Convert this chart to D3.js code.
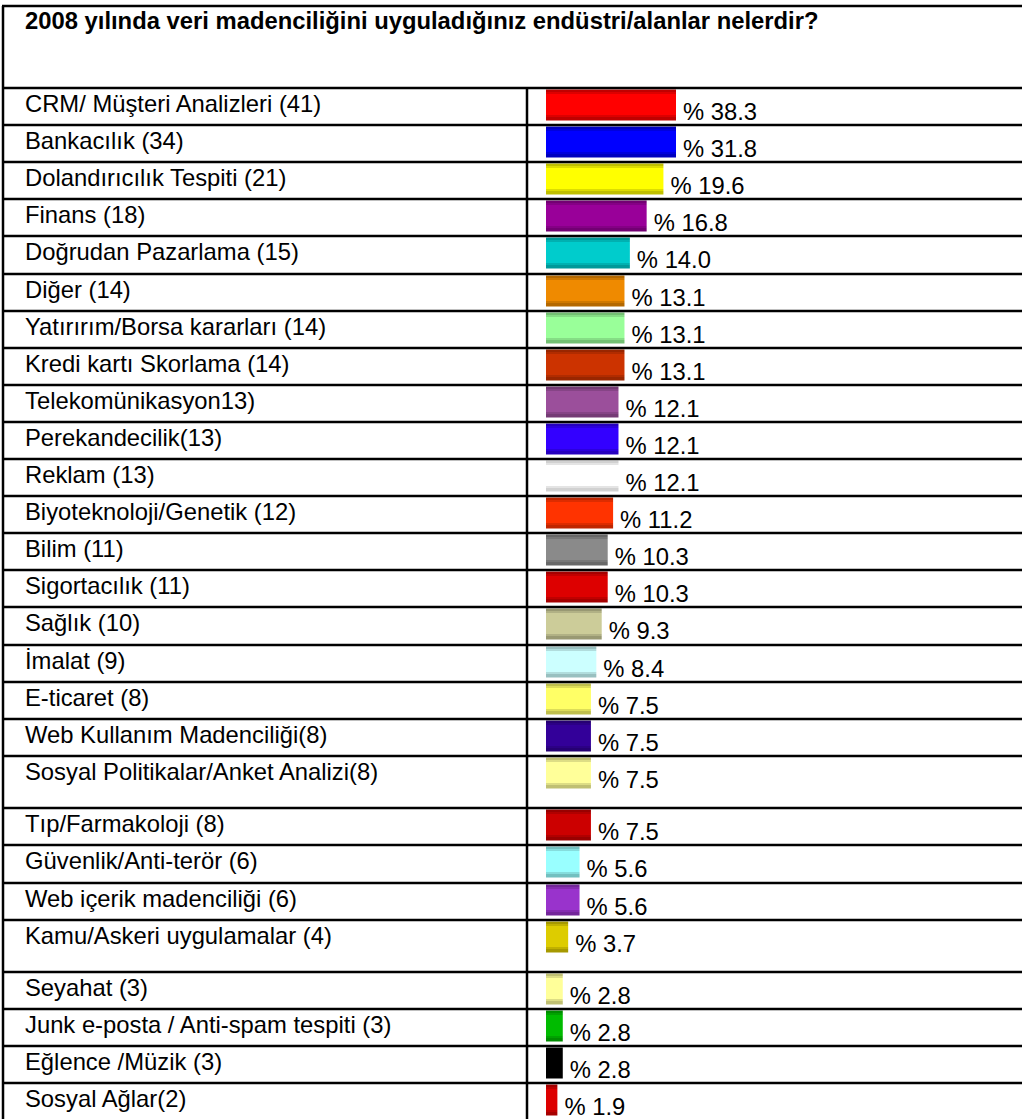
<html>
<meta charset="utf-8" />
<head>
<title>2008 veri madenciliği endüstrileri</title>
<style>
body {
  margin: 0;
  background: #fff;
}

svg text {
  font-family: "Liberation Sans", Arial, sans-serif;
  font-size: 23.8px;
  fill: #000;
}

svg text.title {
  font-weight: bold;
}
</style>
<script src="https://cdn.jsdelivr.net/npm/d3@7/dist/d3.min.js" charset="utf-8"></script>
</head>

<body>
<svg class="chart"></svg>

<script>
var chartWidth = 1022;
var chartHeight = 1119;

/********
 * Data *
 ********/

var titleText = "2008 yılında veri madenciliğini uyguladığınız endüstri/alanlar nelerdir?";

var categories = [
  "CRM/ Müşteri Analizleri (41)",
  "Bankacılık (34)",
  "Dolandırıcılık Tespiti (21)",
  "Finans (18)",
  "Doğrudan Pazarlama (15)",
  "Diğer (14)",
  "Yatırırım/Borsa kararları (14)",
  "Kredi kartı Skorlama (14)",
  "Telekomünikasyon13)",
  "Perekandecilik(13)",
  "Reklam (13)",
  "Biyoteknoloji/Genetik (12)",
  "Bilim (11)",
  "Sigortacılık (11)",
  "Sağlık (10)",
  "İmalat (9)",
  "E-ticaret (8)",
  "Web Kullanım Madenciliği(8)",
  "Sosyal Politikalar/Anket Analizi(8)",
  "Tıp/Farmakoloji (8)",
  "Güvenlik/Anti-terör (6)",
  "Web içerik madenciliği (6)",
  "Kamu/Askeri uygulamalar (4)",
  "Seyahat (3)",
  "Junk e-posta / Anti-spam tespiti (3)",
  "Eğlence /Müzik (3)",
  "Sosyal Ağlar(2)"
];

var percents = [38.3, 31.8, 19.6, 16.8, 14.0, 13.1, 13.1, 13.1, 12.1, 12.1, 12.1,
                11.2, 10.3, 10.3, 9.3, 8.4, 7.5, 7.5, 7.5, 7.5, 5.6, 5.6, 3.7,
                2.8, 2.8, 2.8, 1.9];

var barColors = ["#ff0000", "#0000ff", "#ffff00", "#990099", "#00cccc", "#ef8a00",
                 "#99ff99", "#cc3300", "#9b4f9b", "#3300ff", "#ffffff", "#ff3300",
                 "#8a8a8a", "#dd0000", "#cccc99", "#ccffff", "#ffff66", "#330099",
                 "#ffff99", "#cc0000", "#99ffff", "#9933cc", "#ddcc00", "#ffff99",
                 "#00bb00", "#000000", "#dd0000"];

// rows that were left taller in the source table
var tallRows = ["Sosyal Politikalar/Anket Analizi(8)", "Kamu/Askeri uygulamalar (4)"];

var data = categories.map(function(c, i) {
  return {label: c, value: percents[i], color: barColors[i]};
});

/**********
 * Layout *
 **********/

var tableLeft = 3;
var tableTop = 6;
var headerBottom = 88;
var divider = 527;
var barLeft = 546;
var rowH = 37.1;
var tallH = 52.5;

var rowTops = [];
var acc = headerBottom;
data.forEach(function(d) {
  rowTops.push(Math.round(acc));
  acc += tallRows.indexOf(d.label) >= 0 ? tallH : rowH;
});
var tableBottom = Math.round(acc);

// row position
var y = d3.scaleOrdinal()
    .domain(categories)
    .range(rowTops);

// bar length: the cell clips the longest bars
var x = d3.scaleLinear()
    .domain([0, 21.7])
    .range([0, 130])
    .clamp(true);

var fmt = d3.format(".1f");

var svg = d3.select(".chart")
    .attr("width", chartWidth)
    .attr("height", chartHeight);

// gradients for the shaded bar edges
var defs = svg.append("defs");
var grad = defs.selectAll("linearGradient")
    .data(data)
  .enter().append("linearGradient")
    .attr("id", function(d, i) { return "g" + i; })
    .attr("x1", 0).attr("y1", 0).attr("x2", 0).attr("y2", 1);

var stops = [[0, 0.8], [0.07, 0.8], [0.07, 0.4], [0.13, 0.4], [0.13, 0],
             [0.83, 0], [0.83, 0.4], [0.9, 0.4], [0.9, 0.8], [1, 0.8]];
grad.each(function(d) {
  var g = d3.select(this);
  stops.forEach(function(s) {
    var c = d.color === "#ffffff" ? d3.color("#d0d0d0").brighter(0.5 - s[1] * 0.6)
                                  : d3.color(d.color).darker(s[1]);
    if (d.color === "#ffffff" && s[1] === 0) c = d3.color("#ffffff");
    g.append("stop").attr("offset", s[0]).attr("stop-color", c.formatHex());
  });
});

// title
svg.append("text")
    .attr("class", "title")
    .attr("x", 25)
    .attr("y", 29)
    .text(titleText);

var rows = svg.selectAll("g.row")
    .data(data)
  .enter().append("g")
    .attr("class", "row")
    .attr("transform", function(d) { return "translate(0," + y(d.label) + ")"; });

rows.append("text")
    .attr("x", 25)
    .attr("y", 24)
    .text(function(d) { return d.label; });

rows.append("rect")
    .attr("x", barLeft)
    .attr("y", 1.5)
    .attr("width", function(d) { return x(d.value); })
    .attr("height", 31)
    .attr("fill", function(d, i) { return "url(#g" + i + ")"; });

rows.append("text")
    .attr("x", function(d) { return barLeft + x(d.value) + 7; })
    .attr("y", 32)
    .text(function(d) { return "% " + fmt(d.value); });

// table rules
var hLines = [tableTop, headerBottom].concat(rowTops.slice(1), [tableBottom]);
svg.selectAll("line.h")
    .data(hLines)
  .enter().append("line")
    .attr("class", "h")
    .attr("x1", tableLeft - 1)
    .attr("x2", chartWidth)
    .attr("y1", function(d) { return d; })
    .attr("y2", function(d) { return d; })
    .attr("stroke", "#000")
    .attr("stroke-width", 2.5);

svg.append("line")
    .attr("x1", tableLeft).attr("x2", tableLeft)
    .attr("y1", tableTop).attr("y2", tableBottom)
    .attr("stroke", "#000").attr("stroke-width", 2.5);

svg.append("line")
    .attr("x1", divider).attr("x2", divider)
    .attr("y1", headerBottom).attr("y2", tableBottom)
    .attr("stroke", "#000").attr("stroke-width", 2.5);
</script>
</body>
</html>
